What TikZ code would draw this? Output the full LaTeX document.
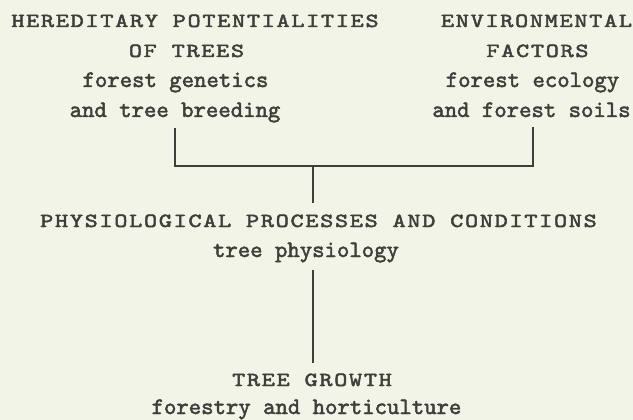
\documentclass[tikz,border=0pt]{standalone}
\usepackage{fontspec}
\usepackage{tikz}
\usetikzlibrary{calc}
\newfontfamily\typecaps[FakeStretch=1.25,LetterSpace=8.5,FakeBold=2.4]{lmmono10-regular.otf}
\newfontfamily\typelow[FakeBold=2]{lmmono10-regular.otf}
\definecolor{paper}{RGB}{243,244,232}
\definecolor{ink}{RGB}{62,62,58}

\begin{document}
\begin{tikzpicture}[
    x=1pt, y=-1pt,
    caps text/.style={anchor=base, inner sep=0pt, text=ink, font=\typecaps\fontsize{20}{24}\selectfont},
    lower text/.style={anchor=base, inner sep=0pt, text=ink, font=\typelow\fontsize{23.6}{28}\selectfont},
    important line/.style={draw=ink, line width=1.2pt}
    ]

    % paper
    \useasboundingbox (0,0) rectangle (633,420);
    \fill[paper] (0,0) rectangle (633,420);
    % hereditary side
    \node[caps text] (hered1) at (195,27) {HEREDITARY POTENTIALITIES};
    \node[caps text] (hered2) at (186.5,57) {OF TREES};
    \node[lower text] (hered3) at (175.5,87) {forest genetics};
    \node[lower text] (hered4) at (175,117) {and tree breeding};
    % environment side
    \node[caps text] (env1) at (536.5,27) {ENVIRONMENTAL};
    \node[caps text] (env2) at (537.5,57) {FACTORS};
    \node[lower text] (env3) at (532.5,87) {forest ecology};
    \node[lower text] (env4) at (531.5,117) {and forest soils};
    % physiology
    \node[caps text] (phys1) at (318.5,227) {PHYSIOLOGICAL PROCESSES AND CONDITIONS};
    \node[lower text] (phys2) at (306,257) {tree physiology};
    % growth
    \node[caps text] (grow1) at (312,386) {TREE GROWTH};
    \node[lower text] (grow2) at (306.5,414) {forestry and horticulture};
    % tree lines
    \coordinate (join) at (313,166);
    \draw[important line] ($(hered4.base)+(0,11)$) |- (join) -| ($(env4.base)+(1.5,10)$);
    \draw[important line] (join) -- ($(join |- phys1.base)+(0,-24)$);
    \draw[important line] ($(join |- phys2.base)+(0,13)$) -- ($(join |- grow1.base)+(0,-23)$);
\end{tikzpicture}
\end{document}
